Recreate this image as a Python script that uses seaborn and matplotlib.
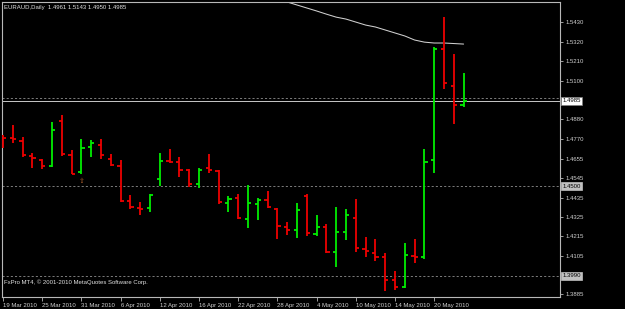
import numpy as np
import pandas as pd
import matplotlib
matplotlib.use("Agg")
import matplotlib.pyplot as plt
import seaborn as sns

# ---------------- data ----------------
date_label_idx = [0, 4, 8, 12, 16, 20, 24, 28, 32, 36, 40, 44]
date_labels = ["19 Mar 2010", "25 Mar 2010", "31 Mar 2010", "6 Apr 2010",
               "12 Apr 2010", "16 Apr 2010", "22 Apr 2010", "28 Apr 2010",
               "4 May 2010", "10 May 2010", "14 May 2010", "20 May 2010"]

opens = [1.4785, 1.4773, 1.4756, 1.4671, 1.4648, 1.4614, 1.4870, 1.4677,
         1.4580, 1.4722, 1.4733, 1.4654, 1.4614, 1.4415, 1.4376, 1.4376,
         1.4540, 1.4643, 1.4637, 1.4591, 1.4512, 1.4603, 1.4586, 1.4404,
         1.4432, 1.4313, 1.4398, 1.4421, 1.4370, 1.4268, 1.4251, 1.4444,
         1.4228, 1.4268, 1.4126, 1.4239, 1.4319, 1.4143, 1.4120, 1.4097,
         1.3967, 1.3927, 1.4103, 1.4097, 1.4648, 1.5279, 1.5069, 1.4961]
highs = [1.4790, 1.4847, 1.4779, 1.4688, 1.4654, 1.4864, 1.4904, 1.4705,
         1.4768, 1.4762, 1.4768, 1.4682, 1.4648, 1.4449, 1.4410, 1.4455,
         1.4688, 1.4711, 1.4665, 1.4597, 1.4603, 1.4682, 1.4590, 1.4444,
         1.4455, 1.4507, 1.4432, 1.4472, 1.4376, 1.4296, 1.4404, 1.4455,
         1.4336, 1.4285, 1.4381, 1.4370, 1.4427, 1.4211, 1.4200, 1.4120,
         1.4018, 1.4177, 1.4200, 1.4711, 1.5290, 1.5460, 1.5250, 1.5143]
lows = [1.4716, 1.4745, 1.4665, 1.4603, 1.4597, 1.4610, 1.4671, 1.4566,
        1.4569, 1.4665, 1.4654, 1.4614, 1.4410, 1.4370, 1.4336, 1.4353,
        1.4501, 1.4631, 1.4552, 1.4495, 1.4489, 1.4574, 1.4398, 1.4353,
        1.4313, 1.4262, 1.4307, 1.4376, 1.4200, 1.4222, 1.4205, 1.4217,
        1.4217, 1.4120, 1.4040, 1.4194, 1.4126, 1.4097, 1.4075, 1.3904,
        1.3910, 1.3922, 1.4063, 1.4086, 1.4574, 1.5051, 1.4853, 1.4950]
closes = [1.4773, 1.4768, 1.4677, 1.4660, 1.4614, 1.4819, 1.4682, 1.4569,
          1.4716, 1.4745, 1.4677, 1.4620, 1.4415, 1.4381, 1.4370, 1.4449,
          1.4643, 1.4637, 1.4591, 1.4512, 1.4591, 1.4591, 1.4410, 1.4427,
          1.4319, 1.4404, 1.4421, 1.4381, 1.4273, 1.4251, 1.4364, 1.4234,
          1.4268, 1.4126, 1.4239, 1.4336, 1.4148, 1.4131, 1.4097, 1.3967,
          1.3927, 1.4109, 1.4097, 1.4637, 1.5279, 1.5086, 1.4961, 1.4985]

ma_idx = list(range(28, 48))
ma_vals = [1.5563, 1.5546, 1.5529, 1.5512, 1.5495, 1.5477, 1.5460, 1.5449,
           1.5432, 1.5415, 1.5404, 1.5387, 1.5370, 1.5353, 1.5330, 1.5318,
           1.5313, 1.5313, 1.5310, 1.5307]

price_ticks = [1.5430, 1.5320, 1.5210, 1.5100, 1.4880, 1.4770, 1.4655,
               1.4545, 1.4435, 1.4325, 1.4215, 1.4105, 1.3885]
price_tick_labels = ["1.5430", "1.5320", "1.5210", "1.5100", "1.4880",
                     "1.4770", "1.4655", "1.4545", "1.4435", "1.4325",
                     "1.4215", "1.4105", "1.3885"]
dashed_levels = [1.5000, 1.4500, 1.3990]
box_levels = [1.4500, 1.3990]
box_labels = ["1.4500", "1.3990"]
bid_price = 1.4985
bid_label = "1.4985"
arrow_idx = 8
arrow_price = 1.4529

title_text = "EURAUD,Daily  1.4961 1.5143 1.4950 1.4985"
footer_text = "FxPro MT4, \u00a9 2001-2010 MetaQuotes Software Corp."

# ---------------- style ----------------
sns.set_style("dark")
plt.rcParams['font.family'] = ['Liberation Sans', 'DejaVu Sans']

W, H = 625, 309
fig = plt.figure(figsize=(W / 100, H / 100), dpi=100, facecolor="black")
left_px, right_px, top_px, bot_px = 2, 560, 2, 297
ax = fig.add_axes([left_px / W, 1 - bot_px / H,
                   (right_px - left_px) / W, (bot_px - top_px) / H])
ax.set_facecolor("black")

df = pd.DataFrame({"i": np.arange(len(opens)), "open": opens, "high": highs,
                   "low": lows, "close": closes})
df["up"] = df["close"] >= df["open"]
bull, bear = "#00ee00", "#ee0000"
cols = np.where(df["up"], bull, bear)
tick_w = 0.33
lw = 1.3
ax.vlines(df["i"], df["low"], df["high"], colors=cols, linewidth=lw, zorder=3)
ax.hlines(df["open"], df["i"] - tick_w, df["i"], colors=cols, linewidth=lw, zorder=3)
ax.hlines(df["close"], df["i"], df["i"] + tick_w, colors=cols, linewidth=lw, zorder=3)

# moving average
ma_df = pd.DataFrame({"i": ma_idx, "ma": ma_vals})
sns.lineplot(data=ma_df, x="i", y="ma", ax=ax, color="#d0d0d0", linewidth=0.75,
             zorder=2, legend=False)

# horizontal lines
for lvl in dashed_levels:
    ax.axhline(lvl, color="#909090", linewidth=0.6, linestyle=(0, (2.5, 2.5)), zorder=1)
ax.axhline(bid_price, color="#c8c8c8", linewidth=0.7, zorder=1)

# arrow marker
ax.text(arrow_idx, arrow_price, "\u21e7", color="#b0602a", fontsize=5,
        ha="center", va="center", family="DejaVu Sans", zorder=4)

# axes limits
px_per_bar = 9.8
x0_px = 3
ax.set_xlim((left_px - x0_px) / px_per_bar, (right_px - x0_px) / px_per_bar)
ax.set_ylim(1.3870, 1.5546)

# spines
for s in ax.spines.values():
    s.set_visible(True)
    s.set_color("#b8b8b8")
    s.set_linewidth(0.8)

# ticks
fs = 4.3
ax.yaxis.tick_right()
ax.set_yticks(price_ticks)
ax.set_yticklabels(price_tick_labels)
ax.tick_params(axis="y", which="both", right=True, left=False, length=2,
               width=0.6, color="#b8b8b8", labelcolor="#d0d0d0", labelsize=fs, pad=2)
ax.set_xticks(date_label_idx)
ax.set_xticklabels(date_labels)
for lab in ax.get_xticklabels():
    lab.set_horizontalalignment("left")
ax.tick_params(axis="x", which="both", bottom=True, length=3, width=0.6,
               color="#b8b8b8", labelcolor="#d0d0d0", labelsize=fs, pad=1.5)
ax.grid(False)
ax.set_xlabel("")
ax.set_ylabel("")

# axis boxes
box_x = 1.004
for lvl, lab in zip(box_levels, box_labels):
    ax.text(box_x, lvl, lab, transform=ax.get_yaxis_transform(), fontsize=fs,
            color="black", va="center", ha="left", zorder=5,
            bbox=dict(boxstyle="square,pad=0.25", fc="#c0c0c0", ec="#c0c0c0", lw=0.5),
            clip_on=False)
ax.text(box_x, bid_price, bid_label, transform=ax.get_yaxis_transform(), fontsize=fs,
        color="black", va="center", ha="left", zorder=6,
        bbox=dict(boxstyle="square,pad=0.25", fc="white", ec="#808080", lw=0.5),
        clip_on=False)

# texts
fig.text(4 / W, 1 - 7 / H, title_text, color="#e0e0e0", fontsize=fs,
         ha="left", va="center")
fig.text(4 / W, 1 - 282 / H, footer_text, color="#e0e0e0", fontsize=fs,
         ha="left", va="center")

fig.savefig("out.png", dpi=100, facecolor="black")
